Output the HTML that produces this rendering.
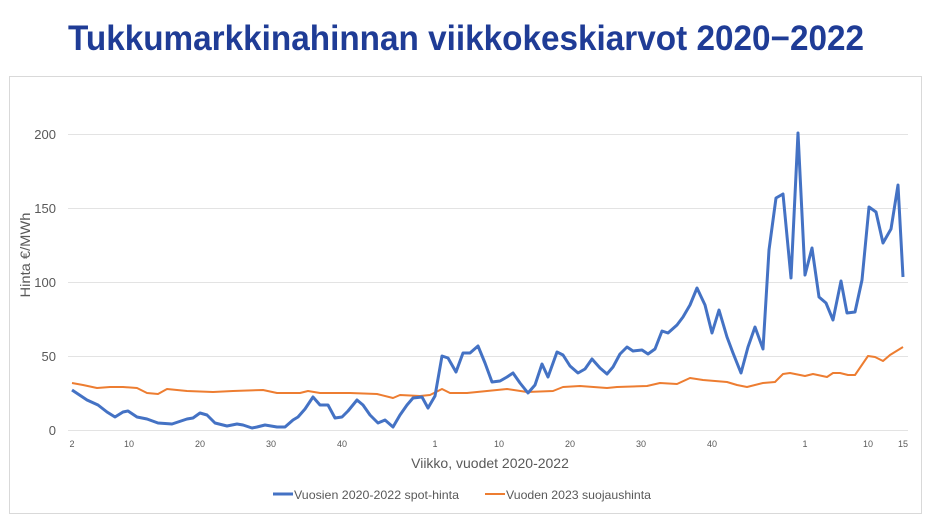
<!DOCTYPE html>
<html><head><meta charset="utf-8"><style>
html,body{margin:0;padding:0;background:#fff;}
svg{display:block;font-family:"Liberation Sans",sans-serif;}
</style></head><body>
<svg width="932" height="523" viewBox="0 0 932 523" xmlns="http://www.w3.org/2000/svg">
<rect width="932" height="523" fill="#fff"/>
<text x="466" y="50" text-anchor="middle" font-size="35" font-weight="bold" fill="#1f3c96" textLength="796" lengthAdjust="spacingAndGlyphs">Tukkumarkkinahinnan viikkokeskiarvot 2020−2022</text>
<rect x="9.5" y="76.5" width="912" height="437" fill="none" stroke="#d9d9d9" stroke-width="1"/>
<g stroke="#e3e3e3" stroke-width="1">
<line x1="68" y1="134.5" x2="908" y2="134.5"/>
<line x1="68" y1="208.5" x2="908" y2="208.5"/>
<line x1="68" y1="282.5" x2="908" y2="282.5"/>
<line x1="68" y1="356.5" x2="908" y2="356.5"/>
<line x1="68" y1="430.5" x2="908" y2="430.5"/>
</g>
<g font-size="13" fill="#595959" text-anchor="end">
<text x="56" y="139">200</text><text x="56" y="213">150</text><text x="56" y="287">100</text><text x="56" y="361">50</text><text x="56" y="435">0</text>
</g>
<text transform="translate(30,255) rotate(-90)" font-size="14" fill="#595959" text-anchor="middle" textLength="85" lengthAdjust="spacingAndGlyphs">Hinta €/MWh</text>
<g font-size="9" fill="#595959" text-anchor="middle">
<text x="72" y="447">2</text><text x="129" y="447">10</text><text x="200" y="447">20</text><text x="271" y="447">30</text><text x="342" y="447">40</text>
<text x="435" y="447">1</text><text x="499" y="447">10</text><text x="570" y="447">20</text><text x="641" y="447">30</text><text x="712" y="447">40</text>
<text x="805" y="447">1</text><text x="868" y="447">10</text><text x="903" y="447">15</text>
</g>
<text x="490" y="468" font-size="14" fill="#595959" text-anchor="middle">Viikko, vuodet 2020-2022</text>
<polyline fill="none" stroke="#ED7D31" stroke-width="2" stroke-linejoin="round" points="72,383 83,385 97,388 110,387 123,387 137,388 147,393 158,394 167,389 187,391 213,392 233,391 263,390 277,393 300,393 308,391 320,393 350,393 377,394 393,398 400,395 420,396 430,395 442,389 450,393 467,393 487,391 507,389 527,392 553,391 563,387 580,386 607,388 617,387 647,386 660,383 677,384 690,378 703,380 727,382 737,385 747,387 763,383 775,382 783,374 790,373 805,376 813,374 827,377 833,373 840,373 848,375 855,375 868,356 875,357 883,361 890,355 903,347"/>
<polyline fill="none" stroke="#4472C4" stroke-width="3" stroke-linejoin="round" points="72,390 87,400 98,405 107,412 115,417 123,412 128,411 137,417 147,419 158,423 172,424 187,419 193,418 200,413 207,415 215,423 227,426 237,424 243,425 252,428 257,427 265,425 277,427 285,427 293,420 298,417 305,409 313,397 320,405 328,405 335,418 342,417 348,411 357,400 363,405 370,415 378,423 385,420 393,427 400,415 407,405 413,398 422,397 428,408 435,396 442,356 448,358 456,372 463,353 470,353 478,346 485,363 492,382 500,381 507,377 513,373 520,383 528,393 535,385 542,364 548,377 557,352 563,355 570,366 578,373 585,369 592,359 600,368 607,374 613,367 620,354 627,347 633,351 642,350 648,354 655,349 662,331 668,333 677,325 683,317 690,305 697,288 705,305 712,333 719,310 727,337 733,353 741,373 748,347 755,327 763,349 769,250 776,198 783,194 791,278 798,133 805,275 812,248 819,297 826,303 833,320 841,281 847,313 855,312 862,280 869,207 876,212 883,243 891,229 898,185 903,277"/>
<line x1="273" y1="494" x2="293" y2="494" stroke="#4472C4" stroke-width="3"/>
<text x="294" y="499" font-size="12" fill="#595959" textLength="165" lengthAdjust="spacingAndGlyphs">Vuosien 2020-2022 spot-hinta</text>
<line x1="485" y1="494" x2="505" y2="494" stroke="#ED7D31" stroke-width="2"/>
<text x="506" y="499" font-size="12" fill="#595959" textLength="145" lengthAdjust="spacingAndGlyphs">Vuoden 2023 suojaushinta</text>
</svg>
</body></html>
